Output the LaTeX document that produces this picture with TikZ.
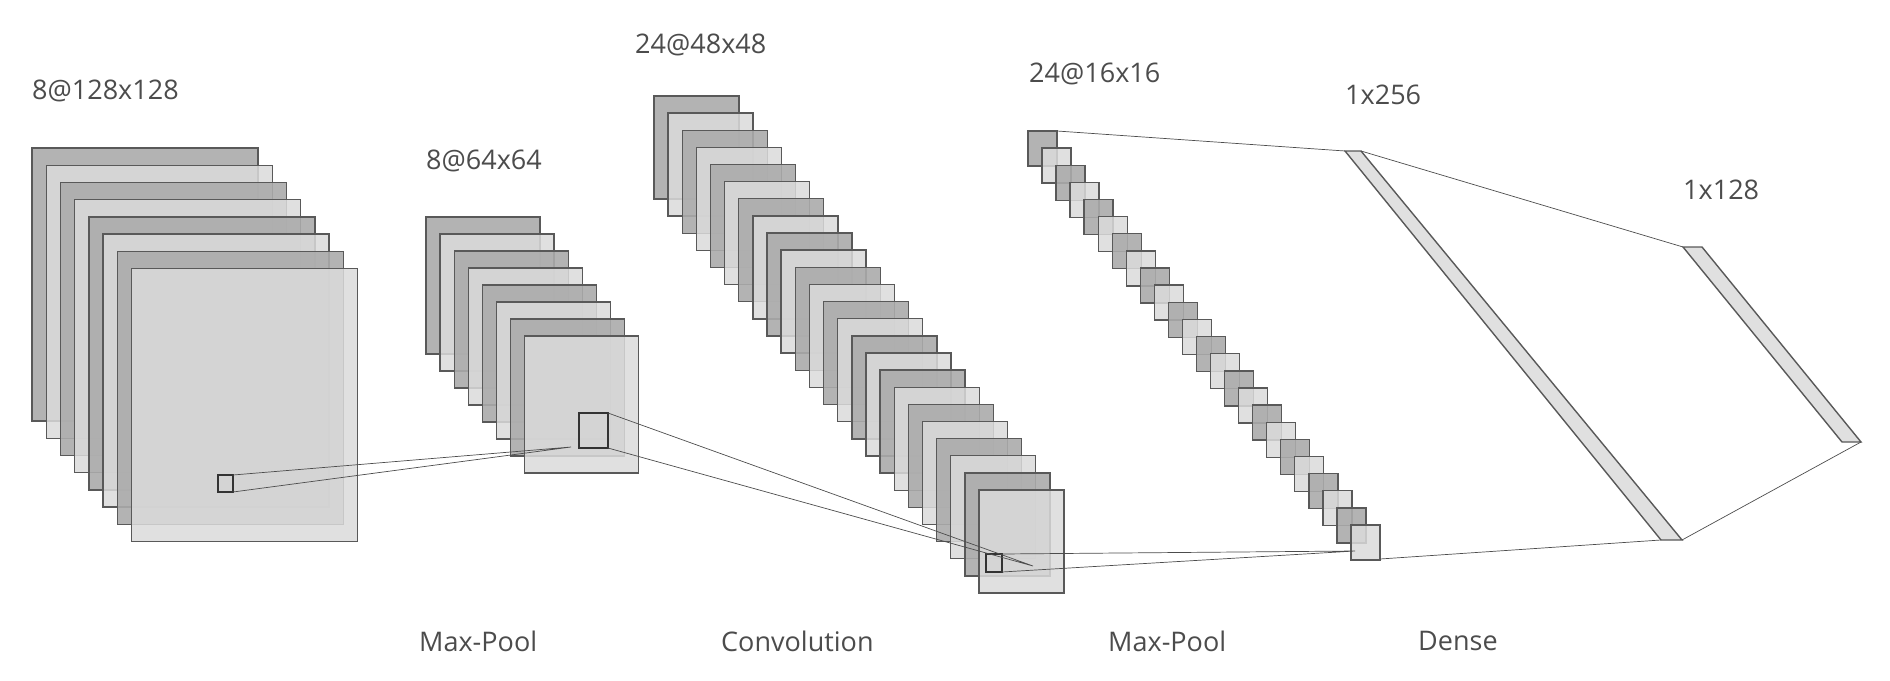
\documentclass[tikz,border=0pt]{standalone}
\usepackage{fontspec}
\setmainfont{Open Sans}
\begin{document}
\begin{tikzpicture}[x=1pt,y=-1pt,
  dk/.style={draw=black!65,line width=1.4pt,fill=black!33,fill opacity=0.9},
  lt/.style={draw=black!65,line width=1.4pt,fill=black!14,fill opacity=0.85},
  sq/.style={draw=black!80,line width=1.2pt},
  conn/.style={draw=black!70,line width=0.7pt},
  lbl/.style={text=black!70,font=\fontsize{27}{30}\selectfont,anchor=north west,inner sep=0pt}]
\useasboundingbox (0,0) rectangle (1890,680);
% layer 1
\foreach \i in {0,...,7}{
  \pgfmathsetmacro\xx{32+14.2*\i}\pgfmathsetmacro\yy{148+17.2*\i}
  \pgfmathparse{int(mod(\i,2))}
  \ifnum\pgfmathresult=0 \path[dk] (\xx,\yy) rectangle ++(226,273);
  \else \path[lt] (\xx,\yy) rectangle ++(226,273); \fi}
\coordinate (s1a) at (233,475); \coordinate (s1b) at (233,492);
\draw[sq] (218,475) rectangle (233,492);
% layer 2
\foreach \i in {0,...,7}{
  \pgfmathsetmacro\xx{426+14.1*\i}\pgfmathsetmacro\yy{217+17*\i}
  \pgfmathparse{int(mod(\i,2))}
  \ifnum\pgfmathresult=0 \path[dk] (\xx,\yy) rectangle ++(114,137);
  \else \path[lt] (\xx,\yy) rectangle ++(114,137); \fi}
\coordinate (t2) at (571,447);
\draw[sq] (579,413) rectangle (608,448);
\coordinate (s2a) at (608,413); \coordinate (s2b) at (608,448);
% layer 3
\foreach \i in {0,...,23}{
  \pgfmathsetmacro\xx{654+14.13*\i}\pgfmathsetmacro\yy{96+17.13*\i}
  \pgfmathparse{int(mod(\i,2))}
  \ifnum\pgfmathresult=0 \path[dk] (\xx,\yy) rectangle ++(85,103);
  \else \path[lt] (\xx,\yy) rectangle ++(85,103); \fi}
\coordinate (t3) at (1033,566);
\draw[sq] (986,554) rectangle (1002,572);
\coordinate (s3a) at (1002,554); \coordinate (s3b) at (1002,572);
% layer 4
\foreach \i in {0,...,23}{
  \pgfmathsetmacro\xx{1028+14.04*\i}\pgfmathsetmacro\yy{131+17.13*\i}
  \pgfmathparse{int(mod(\i,2))}
  \ifnum\pgfmathresult=0 \path[dk] (\xx,\yy) rectangle ++(29,35);
  \else \path[lt] (\xx,\yy) rectangle ++(29,35); \fi}
\coordinate (t4) at (1355,551);
\coordinate (f4a) at (1057,131); \coordinate (f4b) at (1380,559);
% dense
\coordinate (d1tl) at (1345,151); \coordinate (d1tr) at (1361,151);
\coordinate (d1br) at (1682,540); \coordinate (d1bl) at (1661,540);
\path[lt] (d1tl) -- (d1tr) -- (d1br) -- (d1bl) -- cycle;
\coordinate (d2tl) at (1683,247); \coordinate (d2tr) at (1702,247);
\coordinate (d2br) at (1861,442); \coordinate (d2bl) at (1842,442);
\path[lt] (d2tl) -- (d2tr) -- (d2br) -- (d2bl) -- cycle;
% connectors
\draw[conn] (s1a) -- (t2) (s1b) -- (t2);
\draw[conn] (s2a) -- (t3) (s2b) -- (t3);
\draw[conn] (s3a) -- (t4) (s3b) -- (t4);
\draw[conn] (f4a) -- (d1tl) (f4b) -- (d1bl);
\draw[conn] (d1tr) -- (d2tl) (d1br) -- (d2br);
% labels
\node[lbl] (l1) at (32,80) {8@128x128};
\node[lbl] (l2) at (426,150) {8@64x64};
\node[lbl] (l3) at (635,34) {24@48x48};
\node[lbl] (l4) at (1029,63) {24@16x16};
\node[lbl] (l5) at (1345,85) {1x256};
\node[lbl] (l6) at (1683,180) {1x128};
\node[lbl] (b1) at (419,631) {Max-Pool};
\node[lbl] (b2) at (721,631) {Convolution};
\node[lbl] (b3) at (1108,631) {Max-Pool};
\node[lbl] (b4) at (1418,631) {Dense};
\end{tikzpicture}
\end{document}
